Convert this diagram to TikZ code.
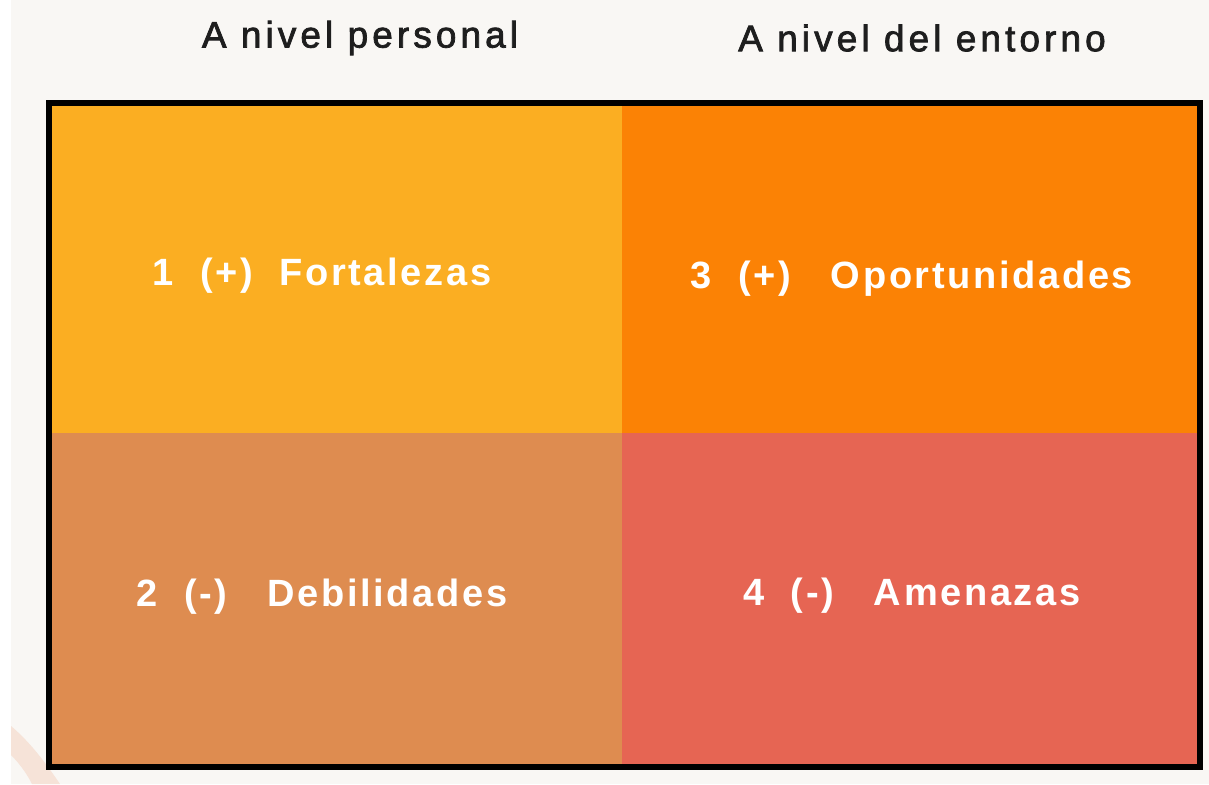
\documentclass[tikz,border=0pt]{standalone}
\usepackage{fontspec}
\setmainfont{Liberation Sans}
\newfontfamily\spacedfont[LetterSpace=7]{Liberation Sans}
\newfontfamily\headfont[LetterSpace=11,FakeBold=2]{Liberation Sans}
\usetikzlibrary{positioning}

\definecolor{paper}{HTML}{F9F7F4}
\definecolor{swoosh}{HTML}{F6E3D8}
\definecolor{fortcol}{HTML}{FBAE22}
\definecolor{oporcol}{HTML}{FB8205}
\definecolor{debicol}{HTML}{DE8C50}
\definecolor{amencol}{HTML}{E66553}
\definecolor{headcol}{HTML}{1E1E1E}

\begin{document}
\begin{tikzpicture}[
    x=0.5pt, y=-0.5pt,
    % --- styles --------------------------------------------------------
    heading/.style={font=\headfont\fontsize{18.5}{20}\selectfont, text=headcol, inner sep=0pt},
    quadlabel/.style={font=\spacedfont\bfseries\fontsize{19}{21}\selectfont, text=white, inner sep=0pt},
    frame/.style={draw=black, line width=3.2pt}
]

% --- background ------------------------------------------------------
\fill[paper] (0,0) rectangle (1209,784);
\fill[white] (0,0) rectangle (11,784);
\fill[swoosh] (11,726) .. controls (30,742) and (45,762) .. (60,784)
    -- (32,784) .. controls (26,772) and (18,762) .. (11,755) -- cycle;
\useasboundingbox (0,0) rectangle (1209,784);

% --- quadrants -------------------------------------------------------
\fill[fortcol] (49,103) rectangle (622,433);
\fill[oporcol] (622,103) rectangle (1200,433);
\fill[debicol] (49,433) rectangle (622,767);
\fill[amencol] (622,433) rectangle (1200,767);
\draw[frame] (49,103) rectangle (1200,767);

% --- headings --------------------------------------------------------
\node[heading] (personal) at (360,38) {A nivel personal};
\node[heading] (entorno)  at (922,38) {A nivel del entorno};

% --- quadrant labels -------------------------------------------------
\node[quadlabel] (fort) at (322,276) {1\ \ (+)\ \ Fortalezas};
\node[quadlabel] (opor) at (912,279) {3\ \ (+)\ \ \ Oportunidades};
\node[quadlabel] (debi) at (322,597) {2\ \ (-)\ \ \ Debilidades};
\node[quadlabel] (amen) at (912,596) {4\ \ (-)\ \ \ Amenazas};

\end{tikzpicture}
\end{document}
